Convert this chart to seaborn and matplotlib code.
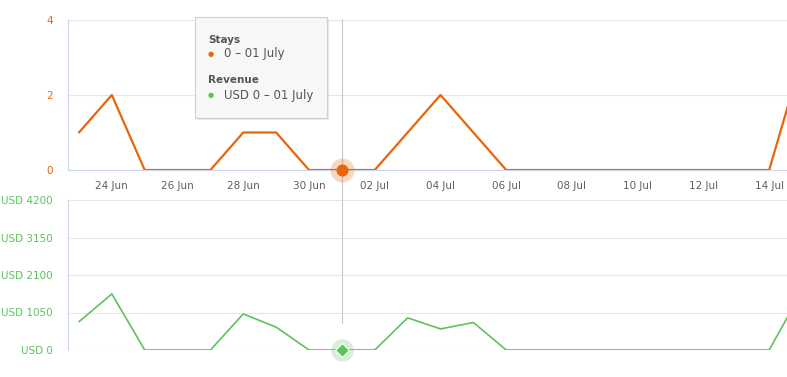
import pandas as pd
import matplotlib
matplotlib.use('Agg')
import matplotlib.pyplot as plt
import matplotlib.dates as mdates
import seaborn as sns

# データ
days = ['2017-06-23', '2017-06-24', '2017-06-25', '2017-06-26', '2017-06-27', '2017-06-28',
        '2017-06-29', '2017-06-30', '2017-07-01', '2017-07-02', '2017-07-03', '2017-07-04',
        '2017-07-05', '2017-07-06', '2017-07-07', '2017-07-08', '2017-07-09', '2017-07-10',
        '2017-07-11', '2017-07-12', '2017-07-13', '2017-07-14', '2017-07-15']
stays = [1, 2, 0, 0, 0, 1, 1, 0, 0, 0, 1, 2, 1, 0, 0, 0, 0, 0, 0, 0, 0, 0, 3]
revenue = [790, 1570, 0, 0, 0, 1010, 640, 0, 0, 0, 900, 590, 770,
           0, 0, 0, 0, 0, 0, 0, 0, 0, 1650]
stays_ticks = [0, 2, 4]
revenue_ticks = [0, 1050, 2100, 3150, 4200]
revenue_labels = ['USD 0', 'USD 1050', 'USD 2100', 'USD 3150', 'USD 4200']
hover_day = '2017-07-01'

df = pd.DataFrame({'date': pd.to_datetime(days), 'stays': stays, 'revenue': revenue})
hover = pd.Timestamp(hover_day)

ORANGE = '#e8650c'
GREEN = '#5cc35c'
AXIS = '#ccd6eb'
GRID = '#e6e6e6'
LABEL = '#606060'

sns.set_theme(style='white')
plt.rcParams['font.family'] = ['DejaVu Sans']

fig = plt.figure(figsize=(7.87, 3.77), dpi=100)
ax1 = fig.add_axes([68 / 787, 1 - 170 / 377, 719 / 787, 150 / 377])
ax2 = fig.add_axes([68 / 787, 1 - 350 / 377, 719 / 787, 150 / 377])

xmin = pd.Timestamp('2017-06-23') - pd.Timedelta(hours=8)
xmax = pd.Timestamp('2017-07-14') + pd.Timedelta(hours=13)

# 上段: Stays
sns.lineplot(data=df, x='date', y='stays', ax=ax1, color=ORANGE, linewidth=1.6)
ax1.set_ylim(0, 4)
ax1.set_yticks(stays_ticks)
ax1.set_xlim(xmin, xmax)
ax1.xaxis.set_major_locator(mdates.DayLocator(bymonthday=[24, 26, 28, 30, 2, 4, 6, 8, 10, 12, 14]))
ax1.xaxis.set_major_formatter(mdates.DateFormatter('%d %b'))
ax1.tick_params(axis='x', length=0, pad=8, labelsize=7.5, labelcolor=LABEL)
ax1.tick_params(axis='y', length=0, pad=11, labelsize=7.5, labelcolor=ORANGE)

# 下段: Revenue
sns.lineplot(data=df, x='date', y='revenue', ax=ax2, color=GREEN, linewidth=1.2)
ax2.set_ylim(0, 4200)
ax2.set_yticks(revenue_ticks)
ax2.set_yticklabels(revenue_labels)
ax2.set_xlim(xmin, xmax)
ax2.set_xticks([])
ax2.tick_params(axis='y', length=0, pad=11, labelsize=7.5, labelcolor=GREEN)

for ax in (ax1, ax2):
    ax.set_xlabel('')
    ax.set_ylabel('')
    ax.grid(axis='y', color=GRID, linewidth=0.8)
    ax.set_axisbelow(True)
    for s in ('top', 'right'):
        ax.spines[s].set_visible(False)
    ax.spines['left'].set_color(AXIS)
    ax.spines['left'].set_linewidth(0.8)
ax1.spines['bottom'].set_color(AXIS)
ax1.spines['bottom'].set_linewidth(0.8)
ax2.spines['bottom'].set_visible(False)

# クロスヘア
ax1.axvline(hover, ymin=-0.2, ymax=1.01, color='#c8c8c8', linewidth=0.8, clip_on=False, zorder=1)
ax2.axvline(hover, ymin=0.18, ymax=1.0, color='#c8c8c8', linewidth=0.8, zorder=1)

hv = df[df['date'] == hover]
ax1.scatter(hv['date'], hv['stays'], s=300, color=ORANGE, alpha=0.25, linewidths=0, clip_on=False, zorder=4)
ax1.scatter(hv['date'], hv['stays'], s=75, color=ORANGE, linewidths=0, clip_on=False, zorder=5)
ax2.scatter(hv['date'], hv['revenue'], s=260, color=GREEN, alpha=0.25, linewidths=0, clip_on=False, zorder=4)
ax2.scatter(hv['date'], hv['revenue'], s=50, marker='D', color=GREEN, edgecolor='white', linewidths=0.8, clip_on=False, zorder=5)

# ツールチップ
shadow = plt.Rectangle((197 / 787, 1 - 120 / 377), 132 / 787, 101 / 377, transform=fig.transFigure,
                       facecolor='#000000', alpha=0.08, edgecolor='none', zorder=9)
box = plt.Rectangle((195 / 787, 1 - 118 / 377), 132 / 787, 101 / 377, transform=fig.transFigure,
                    facecolor='#f7f7f7', edgecolor='#d0d0d0', linewidth=0.8, zorder=10)
fig.add_artist(shadow)
fig.add_artist(box)
fig.text(208 / 787, 1 - 40 / 377, 'Stays', fontsize=7.5, weight='bold', color='#555555', va='center', zorder=11)
fig.text(208 / 787, 1 - 54 / 377, '●', fontsize=5, color=ORANGE, va='center', zorder=11)
fig.text(224 / 787, 1 - 54 / 377, '0 – 01 July', fontsize=8.5, color='#555555', va='center', zorder=11)
fig.text(208 / 787, 1 - 80 / 377, 'Revenue', fontsize=7.5, weight='bold', color='#555555', va='center', zorder=11)
fig.text(208 / 787, 1 - 95 / 377, '●', fontsize=5, color=GREEN, va='center', zorder=11)
fig.text(224 / 787, 1 - 95 / 377, 'USD 0 – 01 July', fontsize=8.5, color='#555555', va='center', zorder=11)

fig.savefig('out.png', dpi=100)
